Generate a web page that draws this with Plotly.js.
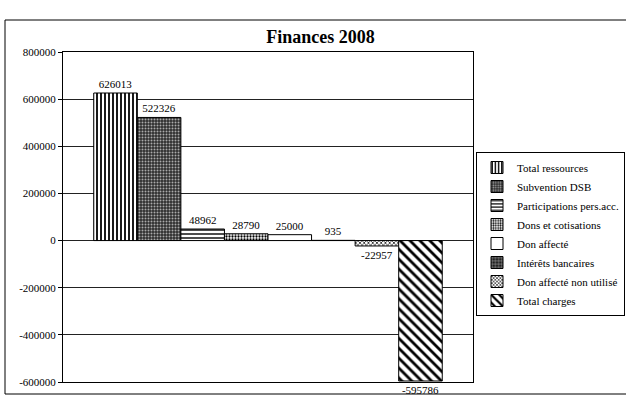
<!DOCTYPE html>
<html>
<head>
<meta charset="utf-8">
<script src="https://cdn.plot.ly/plotly-3.0.1.min.js"></script>
<style>
  html, body { margin: 0; padding: 0; background: #fff; }
  #chart { width: 626px; height: 404px; }
</style>
</head>
<body>
<div id="chart"></div>
<script>
const seriesNames = [
  "Total ressources",
  "Subvention DSB",
  "Participations pers.acc.",
  "Dons et cotisations",
  "Don affecté",
  "Intérêts bancaires",
  "Don affecté non utilisé",
  "Total charges"
];
const seriesValues = [626013, 522326, 48962, 28790, 25000, 935, -22957, -595786];
const category = ["Finances 2008"];
const yTickVals = [-600000, -400000, -200000, 0, 200000, 400000, 600000, 800000];
const yTickText = ["-600000", "-400000", "-200000", "0", "200000", "400000", "600000", "800000"];

const styles = [
  {color: "#ffffff", pattern: {shape: "|", fgcolor: "#000", bgcolor: "#fff", size: 4, solidity: 0.45}},
  {color: "#3c3c3c", pattern: {shape: ".", fgcolor: "#aaaaaa", bgcolor: "#2e2e2e", size: 3, solidity: 0.35}},
  {color: "#ffffff", pattern: {shape: "-", fgcolor: "#000", bgcolor: "#fff", size: 4, solidity: 0.35}},
  {color: "#ffffff", pattern: {shape: ".", fgcolor: "#000", bgcolor: "#fff", size: 3, solidity: 0.45}},
  {color: "#ffffff", pattern: {shape: "", fgcolor: "#000", bgcolor: "#fff"}},
  {color: "#333333", pattern: {shape: "+", fgcolor: "#ddd", bgcolor: "#222", size: 4, solidity: 0.2}},
  {color: "#ffffff", pattern: {shape: "x", fgcolor: "#000", bgcolor: "#fff", size: 3, solidity: 0.4}},
  {color: "#ffffff", pattern: {shape: "\\", fgcolor: "#000", bgcolor: "#fff", size: 7, solidity: 0.4}}
];

const serif = "Liberation Serif";

const traces = seriesNames.map((name, i) => ({
  type: "bar",
  name: name,
  x: category,
  y: [seriesValues[i]],
  text: [String(seriesValues[i])],
  textposition: "outside",
  cliponaxis: false,
  textfont: {family: serif, size: 11, color: "#000"},
  marker: {
    color: styles[i].color,
    pattern: styles[i].pattern,
    line: {color: "#000", width: 1}
  },
  hoverinfo: "name+y"
}));

const W = 626, H = 404;
const mL = 63, mR = 153, mT = 52, mB = 22;
const pw = W - mL - mR, ph = H - mT - mB;
const px = v => (v - mL) / pw;
const py = v => (H - mB - v) / ph;

const layout = {
  width: W,
  height: H,
  margin: {l: mL, r: mR, t: mT, b: mB, pad: 0},
  paper_bgcolor: "#fff",
  plot_bgcolor: "#fff",
  barmode: "group",
  bargap: 0.15,
  bargroupgap: 0,
  showlegend: true,
  font: {family: serif, size: 11, color: "#000"},
  title: {
    text: "<b>Finances 2008</b>",
    font: {family: serif, size: 18, color: "#000"},
    x: 0.512, xanchor: "center",
    y: 1 - 37 / H, yanchor: "middle"
  },
  xaxis: {
    showticklabels: false,
    ticks: "",
    showgrid: false,
    zeroline: false,
    showline: true,
    mirror: true,
    linecolor: "#000",
    linewidth: 1
  },
  yaxis: {
    range: [-600000, 800000],
    tickvals: yTickVals,
    ticktext: yTickText,
    ticks: "outside",
    ticklen: 4,
    tickcolor: "#000",
    tickfont: {family: serif, size: 11, color: "#000"},
    showgrid: true,
    gridcolor: "#222",
    gridwidth: 1,
    zeroline: true,
    zerolinecolor: "#222",
    zerolinewidth: 1,
    showline: true,
    mirror: true,
    linecolor: "#000",
    linewidth: 1
  },
  legend: {
    xref: "container", yref: "container",
    x: 476 / W, xanchor: "left",
    y: 1 - 152 / H, yanchor: "top",
    bgcolor: "#fff",
    bordercolor: "#000",
    borderwidth: 1,
    itemwidth: 30,
    font: {family: serif, size: 11, color: "#000"},
    traceorder: "normal"
  },
  shapes: [
    {
      type: "rect", xref: "paper", yref: "paper",
      x0: px(5), x1: px(640), y0: py(394), y1: py(20),
      line: {color: "#000", width: 1}, fillcolor: "rgba(0,0,0,0)",
      layer: "below"
    }
  ]
};

Plotly.newPlot("chart", traces, layout, {staticPlot: true, displayModeBar: false});
</script>
</body>
</html>
